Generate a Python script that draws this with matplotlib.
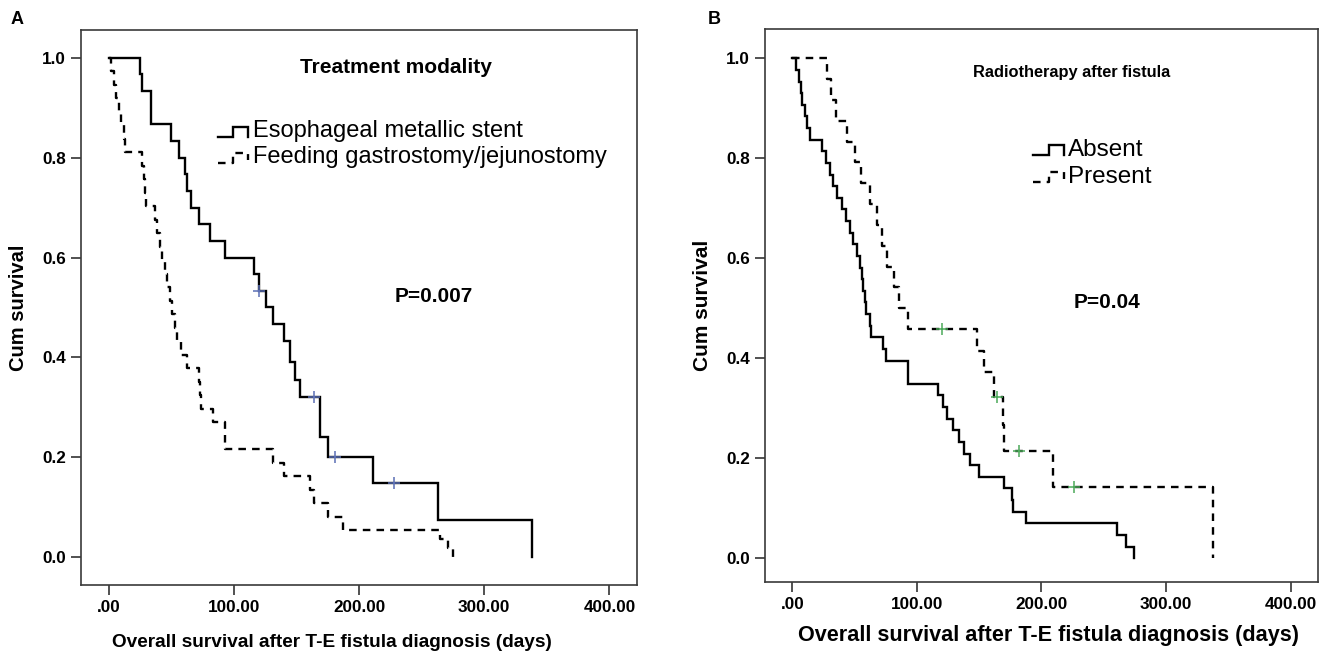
import numpy as np
import matplotlib
matplotlib.use("Agg")
import matplotlib.pyplot as plt

plt.rcParams['font.family'] = ['Liberation Sans', 'DejaVu Sans']

# ---------------- Data ----------------
# Panel A: Treatment modality
a_stent_t = [0, 25, 27, 34, 50, 56, 61, 63, 66, 72, 81, 93, 116, 120, 126, 131, 140, 145,
             149, 153, 169, 175, 211, 263, 338]
a_stent_s = [1.0, 0.967, 0.933, 0.867, 0.833, 0.8, 0.767, 0.733, 0.7, 0.667, 0.633, 0.6,
             0.567, 0.533, 0.5, 0.467, 0.433, 0.39, 0.355, 0.32, 0.24, 0.2, 0.148, 0.074, 0.0]
a_stent_cens = [120, 164, 181, 228]

a_feed_t = [0, 2, 4, 6, 8, 10, 12, 13, 27, 28, 29, 30, 37, 39, 41, 43, 45, 47, 49, 51, 53,
            55, 58, 63, 72, 73, 74, 83, 93, 131, 140, 161, 164, 175, 187, 265, 271, 275]
a_feed_s = [1.0, 0.973, 0.946, 0.919, 0.892, 0.865, 0.838, 0.811, 0.784, 0.757, 0.730,
            0.703, 0.676, 0.649, 0.622, 0.595, 0.568, 0.541, 0.514, 0.486, 0.459, 0.432,
            0.405, 0.378, 0.351, 0.324, 0.297, 0.27, 0.216, 0.189, 0.162, 0.135, 0.108,
            0.081, 0.054, 0.036, 0.018, 0.0]

# Panel B: Radiotherapy after fistula
b_abs_t = [0, 3, 5, 7, 8, 10, 12, 14, 24, 27, 30, 33, 36, 40, 43, 46, 49, 52, 54, 56, 57,
           58, 59, 62, 63, 73, 75, 93, 117, 121, 124, 129, 134, 138, 143, 150, 170, 176,
           177, 188, 261, 268, 274]
b_abs_s = [1.0, 0.977, 0.953, 0.930, 0.907, 0.884, 0.860, 0.837, 0.814, 0.791, 0.767,
           0.744, 0.721, 0.698, 0.674, 0.651, 0.628, 0.605, 0.581, 0.558, 0.535, 0.512,
           0.488, 0.465, 0.442, 0.419, 0.395, 0.349, 0.326, 0.302, 0.279, 0.256, 0.233,
           0.209, 0.186, 0.163, 0.140, 0.116, 0.093, 0.070, 0.047, 0.023, 0.0]

b_pre_t = [0, 28, 31, 35, 44, 50, 55, 62, 68, 72, 76, 82, 86, 93, 148, 154, 162, 169, 170,
           209, 338]
b_pre_s = [1.0, 0.958, 0.917, 0.875, 0.833, 0.792, 0.750, 0.708, 0.667, 0.625, 0.583,
           0.542, 0.500, 0.458, 0.415, 0.372, 0.322, 0.267, 0.214, 0.143, 0.0]
b_pre_cens = [120, 164, 182, 226]

xticks = [0, 100, 200, 300, 400]
xtick_labels = ['.00', '100.00', '200.00', '300.00', '400.00']
yticks = [0.0, 0.2, 0.4, 0.6, 0.8, 1.0]
ytick_labels = ['0.0', '0.2', '0.4', '0.6', '0.8', '1.0']

# ---------------- Figure ----------------
fig = plt.figure(figsize=(13.26, 6.59), dpi=100)
axA = fig.add_axes([0.0611, 0.1123, 0.4193, 0.8422])
axB = fig.add_axes([0.5769, 0.1168, 0.4170, 0.8391])

DASH = (0, (3.2, 2.6))
LW = 1.7


def surv_at(t_arr, s_arr, t):
    idx = np.searchsorted(np.asarray(t_arr), t, side='right') - 1
    return np.asarray(s_arr)[idx]


def style_axes(ax, ylo, yhi, xl_size, xl_x, xl_y, yl_size):
    ax.set_xlim(-22, 422)
    ax.set_ylim(ylo, yhi)
    ax.set_xticks(xticks)
    ax.set_xticklabels(xtick_labels)
    ax.set_yticks(yticks)
    ax.set_yticklabels(ytick_labels)
    ax.tick_params(direction='out', length=7, width=1.2, color='#333333',
                   labelsize=12.3, pad=4)
    for lab in ax.get_xticklabels() + ax.get_yticklabels():
        lab.set_fontweight('bold')
    for sp in ax.spines.values():
        sp.set_color('#3a3a3a')
        sp.set_linewidth(1.2)
    ax.set_xlabel('Overall survival after T-E fistula diagnosis (days)',
                  fontsize=xl_size, fontweight='bold')
    ax.xaxis.set_label_coords(xl_x, xl_y)
    ax.set_ylabel('Cum survival', fontsize=yl_size, fontweight='bold', labelpad=10)


def legend_glyph(ax, x0, x1, x2, ylow, yhigh, yend, ls):
    ax.plot([x0, x1, x1, x2, x2], [ylow, ylow, yhigh, yhigh, yend],
            transform=ax.transAxes, color='black', lw=LW, ls=ls,
            solid_joinstyle='miter', clip_on=False)


# Panel A
axA.step(a_stent_t, a_stent_s, where='post', color='black', lw=LW,
         solid_joinstyle='miter')
axA.step(a_feed_t, a_feed_s, where='post', color='black', lw=LW, ls=DASH)
axA.plot(a_stent_cens, [surv_at(a_stent_t, a_stent_s, t) for t in a_stent_cens],
         ls='none', marker='+', ms=8, mew=1.1, color='#5b6fb5')
style_axes(axA, -0.056, 1.056, 13.7, 0.451, -0.088, 14.5)
axA.text(0.567, 0.932, 'Treatment modality', transform=axA.transAxes,
         ha='center', va='center', fontsize=15, fontweight='bold')
axA.text(0.635, 0.519, 'P=0.007', transform=axA.transAxes,
         ha='center', va='center', fontsize=15, fontweight='bold')
legend_glyph(axA, 0.246, 0.273, 0.300, 0.807, 0.825, 0.807, '-')
legend_glyph(axA, 0.246, 0.273, 0.300, 0.760, 0.778, 0.765, DASH)
axA.text(0.310, 0.818, 'Esophageal metallic stent', transform=axA.transAxes,
         ha='left', va='center', fontsize=17)
axA.text(0.310, 0.771, 'Feeding gastrostomy/jejunostomy', transform=axA.transAxes,
         ha='left', va='center', fontsize=17)

# Panel B
axB.step(b_abs_t, b_abs_s, where='post', color='black', lw=LW,
         solid_joinstyle='miter')
axB.step(b_pre_t, b_pre_s, where='post', color='black', lw=LW, ls=DASH)
axB.plot(b_pre_cens, [surv_at(b_pre_t, b_pre_s, t) for t in b_pre_cens],
         ls='none', marker='+', ms=8, mew=1.1, color='#4caa5a')
style_axes(axB, -0.048, 1.058, 15.6, 0.512, -0.078, 15)
axB.text(0.555, 0.922, 'Radiotherapy after fistula', transform=axB.transAxes,
         ha='center', va='center', fontsize=11.8, fontweight='bold')
axB.text(0.618, 0.506, 'P=0.04', transform=axB.transAxes,
         ha='center', va='center', fontsize=15, fontweight='bold')
legend_glyph(axB, 0.485, 0.514, 0.541, 0.772, 0.790, 0.772, '-')
legend_glyph(axB, 0.485, 0.514, 0.541, 0.723, 0.741, 0.728, DASH)
axB.text(0.548, 0.781, 'Absent', transform=axB.transAxes,
         ha='left', va='center', fontsize=17.5)
axB.text(0.548, 0.732, 'Present', transform=axB.transAxes,
         ha='left', va='center', fontsize=17.5)

# Panel letters
fig.text(17 / 1326, 1 - 20 / 659, 'A', fontsize=13, fontweight='bold',
         ha='center', va='center')
fig.text(714 / 1326, 1 - 20 / 659, 'B', fontsize=13, fontweight='bold',
         ha='center', va='center')

fig.savefig('out.png', dpi=100)
